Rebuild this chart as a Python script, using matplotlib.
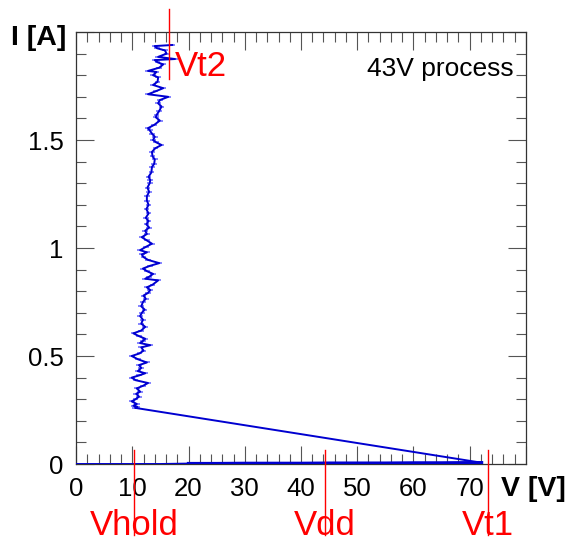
import numpy as np
import matplotlib
matplotlib.use("Agg")
import matplotlib.pyplot as plt
from matplotlib.ticker import MultipleLocator, FuncFormatter

plt.rcParams["font.family"] = ["Liberation Sans", "DejaVu Sans"]

# off-state sweep (current ~ 0 until trigger)
v_off = [0, 5, 10, 15, 20, 25, 30, 35, 40, 45, 50, 55, 60, 65, 70, 72.1]
i_off = [0, 0, 0, 0, 0.002, 0.002, 0.003, 0.003, 0.003, 0.004, 0.004, 0.004, 0.005, 0.005, 0.006, 0.006]

# on-state after snapback
v_on = [10.5, 10.9, 10.2, 10.8, 9.9, 10.6, 11.2, 10.7, 11.4, 10.8, 11.9, 12.8, 10.6, 9.9, 11.2,
        12.3, 11.0, 11.6, 11.2, 12.6, 11.0, 9.9, 11.3, 12.0, 11.6, 13.2, 11.4, 11.9, 12.3, 11.2,
        10.2, 11.6, 12.3, 11.6, 11.9, 11.4, 11.7, 12.2, 11.6, 11.9, 12.4, 12.0, 12.8, 13.2, 12.6,
        13.6, 14.6, 12.3, 13.0, 13.7, 12.6, 11.9, 13.2, 14.8, 12.8, 12.0, 11.7, 12.6, 11.4, 12.4,
        13.5, 12.6, 11.7, 12.6, 12.3, 13.0, 12.5, 12.9, 12.4, 12.9, 12.5, 12.9, 12.6, 12.6, 13.0,
        12.7, 13.1, 13.2, 12.9, 13.4, 13.5, 13.9, 14.0, 13.6, 13.5, 14.1, 15.2, 14.2, 13.7, 14.0,
        13.5, 13.1, 12.8, 13.9, 14.9, 14.2, 14.3, 14.8, 15.2, 14.6, 14.9, 16.4, 12.8, 14.1, 15.5,
        13.7, 14.5, 14.6, 13.7, 14.3, 12.8, 14.8, 15.5, 14.5, 14.0, 17.6, 14.6, 16.1, 15.8, 14.4,
        14.0, 17.1]
i_on = [0.260, 0.265, 0.270, 0.278, 0.290, 0.300, 0.312, 0.325, 0.335, 0.350, 0.362, 0.375, 0.388,
        0.400, 0.410, 0.420, 0.430, 0.445, 0.458, 0.470, 0.485, 0.500, 0.512, 0.525, 0.540, 0.550,
        0.560, 0.570, 0.580, 0.592, 0.605, 0.618, 0.635, 0.650, 0.668, 0.685, 0.700, 0.715, 0.730,
        0.750, 0.765, 0.780, 0.792, 0.805, 0.818, 0.830, 0.850, 0.858, 0.867, 0.880, 0.893, 0.905,
        0.918, 0.930, 0.945, 0.958, 0.970, 0.980, 0.990, 1.005, 1.020, 1.035, 1.050, 1.065, 1.080,
        1.095, 1.110, 1.125, 1.140, 1.160, 1.180, 1.200, 1.220, 1.240, 1.260, 1.280, 1.300, 1.315,
        1.330, 1.350, 1.375, 1.390, 1.410, 1.425, 1.445, 1.462, 1.477, 1.490, 1.500, 1.515, 1.530,
        1.545, 1.555, 1.570, 1.590, 1.605, 1.615, 1.635, 1.655, 1.670, 1.685, 1.700, 1.712, 1.725,
        1.740, 1.755, 1.770, 1.790, 1.800, 1.815, 1.820, 1.835, 1.850, 1.860, 1.870, 1.875, 1.885,
        1.900, 1.915, 1.925, 1.935, 1.940]
v_err = 0.5

# marker lines: (name, voltage) on the V axis, Vt2 on the top
v_marks = [("Vhold", 10.3), ("Vdd", 44.3), ("Vt1", 73.3)]
vt2 = 16.5

fig = plt.figure(figsize=(5.66, 5.42), dpi=100)
ax = fig.add_axes([0.1343, 0.1439, 0.795, 0.797])

v_all = v_off + v_on
i_all = i_off + i_on
ax.errorbar(v_on, i_on, xerr=v_err, fmt="none", ecolor="#7070ff", elinewidth=1.2, capsize=0, zorder=2)
ax.plot(v_all, i_all, color="#0000d0", lw=1.4, zorder=3)
ax.plot(v_off[4:], i_off[4:], color="#0000d0", lw=2.4, zorder=3)

ax.set_xlim(0, 80)
ax.set_ylim(0, 2.0)
ax.xaxis.set_major_locator(MultipleLocator(10))
ax.xaxis.set_minor_locator(MultipleLocator(2))
ax.yaxis.set_major_locator(MultipleLocator(0.5))
ax.yaxis.set_minor_locator(MultipleLocator(0.1))
ax.xaxis.set_major_formatter(FuncFormatter(lambda x, p: "%g" % x if x < 75 else ""))
ax.yaxis.set_major_formatter(FuncFormatter(lambda y, p: "%g" % y if y < 1.9 else ""))

ax.tick_params(which="both", direction="in", top=True, right=True, color="#555555", width=0.8)
ax.tick_params(which="major", length=13, labelsize=18.5)
ax.tick_params(which="minor", length=7)
ax.tick_params(axis="x", pad=9)
ax.tick_params(axis="y", pad=9)
for s in ax.spines.values():
    s.set_color("#333333")
    s.set_linewidth(0.9)

fig.text(66 / 566, 1 - 38 / 542, "I [A]", ha="right", va="center", fontsize=20.5, fontweight="bold")
fig.text(566 / 566, 1 - 489 / 542, "V [V]", ha="right", va="center", fontsize=20.5, fontweight="bold")
ax.text(0.972, 0.915, "43V process", transform=ax.transAxes, ha="right", va="center", fontsize=19)

for name, v in v_marks:
    ax.plot([v, v], [0.065, -0.33], color="red", lw=1, clip_on=False, zorder=4)
    ax.text(v, -0.36, name, color="red", fontsize=25, ha="center", va="bottom", clip_on=False)
ax.plot([vt2, vt2], [2.106, 1.782], color="red", lw=1, clip_on=False, zorder=4)
ax.text(vt2 + 1.0, 1.84, "Vt2", color="red", fontsize=25, ha="left", va="center")

fig.savefig("out.png", dpi=100)
